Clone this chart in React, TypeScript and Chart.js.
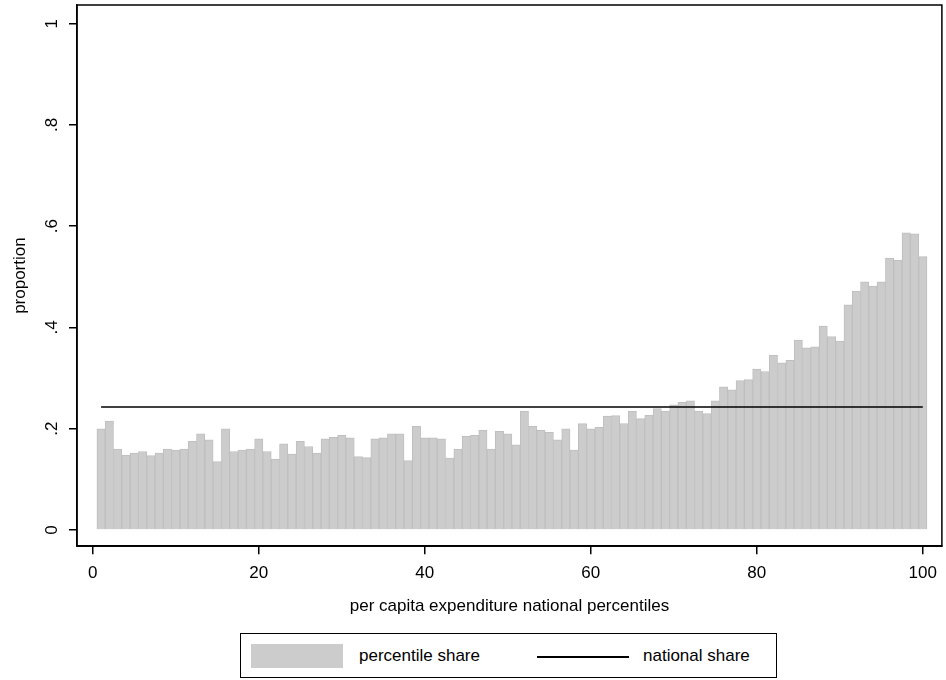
import React, { useEffect, useRef } from "react";
import { Chart, registerables } from "chart.js";
Chart.register(...registerables);

const percentiles: number[] = Array.from({ length: 100 }, (_, i) => i + 1);
const shares: number[] = [
  0.2, 0.215, 0.16, 0.148, 0.152, 0.155, 0.147, 0.152, 0.16, 0.158,
  0.16, 0.175, 0.19, 0.178, 0.135, 0.2, 0.155, 0.158, 0.16, 0.18,
  0.155, 0.14, 0.17, 0.15, 0.175, 0.165, 0.152, 0.18, 0.183, 0.187,
  0.182, 0.145, 0.143, 0.18, 0.182, 0.19, 0.19, 0.137, 0.205, 0.182,
  0.182, 0.18, 0.142, 0.16, 0.185, 0.187, 0.197, 0.16, 0.195, 0.19,
  0.168, 0.235, 0.205, 0.197, 0.193, 0.178, 0.2, 0.158, 0.21, 0.2,
  0.203, 0.225, 0.226, 0.21, 0.235, 0.22, 0.227, 0.24, 0.235, 0.247,
  0.252, 0.255, 0.235, 0.23, 0.255, 0.283, 0.277, 0.295, 0.297, 0.318,
  0.313, 0.345, 0.33, 0.335, 0.375, 0.36, 0.362, 0.403, 0.382, 0.373,
  0.445, 0.472, 0.49, 0.482, 0.49, 0.537, 0.533, 0.587, 0.585, 0.54,
];
const nationalShare = 0.243;
const xTicks = [0, 20, 40, 60, 80, 100];
const yTicks = [0, 0.2, 0.4, 0.6, 0.8, 1];
const yTickLabels = ["0", ".2", ".4", ".6", ".8", "1"];

const FONT = "'Liberation Sans', Arial, sans-serif";

export default function App() {
  const ref = useRef<HTMLCanvasElement>(null);
  useEffect(() => {
    const frame = {
      id: "frame",
      afterDraw(c: any) {
        const { ctx, chartArea: a } = c;
        const ys = c.scales.y;
        ctx.save();
        ctx.strokeStyle = "#000";
        ctx.lineWidth = 1.5;
        ctx.strokeRect(a.left, a.top, a.right - a.left, a.bottom - a.top);
        ctx.fillStyle = "#000";
        ctx.font = `17px ${FONT}`;
        ctx.textAlign = "center";
        ctx.textBaseline = "middle";
        yTicks.forEach((v, i) => {
          const py = ys.getPixelForValue(v);
          ctx.save();
          ctx.translate(52, py);
          ctx.rotate(-Math.PI / 2);
          ctx.fillText(yTickLabels[i], 0, 0);
          ctx.restore();
        });
        ctx.save();
        ctx.translate(20, (a.top + a.bottom) / 2);
        ctx.rotate(-Math.PI / 2);
        ctx.fillText("proportion", 0, 0);
        ctx.restore();
        ctx.restore();
      },
    };
    const chart = new Chart(ref.current!, {
      type: "bar",
      data: {
        datasets: [
          {
            type: "bar",
            data: percentiles.map((p, i) => ({ x: p, y: shares[i] })),
            backgroundColor: "#cccccc",
            borderColor: "#bfbfbf",
            borderWidth: 1,
            barPercentage: 1,
            categoryPercentage: 1,
            order: 2,
          } as any,
          {
            type: "line",
            data: [
              { x: 1, y: nationalShare },
              { x: 100, y: nationalShare },
            ],
            borderColor: "#000",
            borderWidth: 1.5,
            pointRadius: 0,
            order: 1,
          } as any,
        ],
      },
      options: {
        animation: false,
        responsive: false,
        layout: { padding: { top: 5, right: 1, left: 0, bottom: 0 } },
        plugins: { legend: { display: false }, tooltip: { enabled: false } },
        scales: {
          x: {
            type: "linear",
            offset: false,
            min: -1.9,
            max: 102.3,
            afterBuildTicks: (s: any) => { s.ticks = xTicks.map((v) => ({ value: v })); },
            ticks: { color: "#000", font: { family: FONT, size: 17 }, padding: 9, autoSkip: false, maxRotation: 0 },
            grid: { drawOnChartArea: false, tickLength: 8, color: "#000", lineWidth: 1.5, offset: false },
            border: { color: "#000", width: 1.5 },
            title: { display: true, text: "per capita expenditure national percentiles", color: "#000", font: { family: FONT, size: 17 }, padding: { top: 4, bottom: 4 } },
          },
          y: {
            min: -0.032,
            max: 1.037,
            afterBuildTicks: (s: any) => { s.ticks = yTicks.map((v) => ({ value: v })); },
            afterFit: (s: any) => { s.width = 77; },
            ticks: { display: false },
            grid: { drawOnChartArea: false, tickLength: 8, color: "#000", lineWidth: 1.5 },
            border: { color: "#000", width: 1.5 },
          },
        },
      },
      plugins: [frame],
    });
    return () => chart.destroy();
  }, []);
  return (
    <div style={{ position: "fixed", left: 0, top: 0, width: 946, height: 680, background: "#fff", fontFamily: FONT }}>
      <canvas ref={ref} width={946} height={621} style={{ display: "block" }} />
      <div style={{ position: "absolute", left: 240, top: 633, width: 537, height: 45, border: "1.5px solid #000", boxSizing: "border-box", fontSize: 17, color: "#000" }}>
        <div style={{ position: "absolute", left: 10, top: 10, width: 92, height: 24, background: "#cccccc" }} />
        <div style={{ position: "absolute", left: 118, top: 12 }}>percentile share</div>
        <div style={{ position: "absolute", left: 296, top: 22, width: 92, height: 1.5, background: "#000" }} />
        <div style={{ position: "absolute", left: 402, top: 12 }}>national share</div>
      </div>
    </div>
  );
}
